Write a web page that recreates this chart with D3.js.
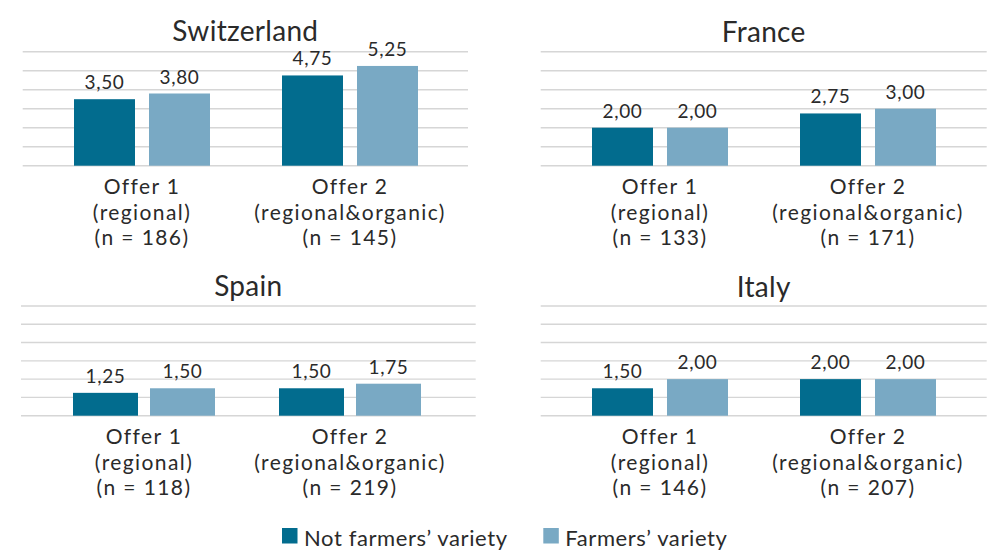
<!DOCTYPE html>
<html>
<head>
<meta charset="utf-8">
<script src="https://cdn.jsdelivr.net/npm/d3@7"></script>
<style>
  html, body { margin: 0; padding: 0; background: #fff; }
  svg { display: block; font-family: Lato, "Noto Sans", sans-serif; }
  .txt { fill: #2a2a2a; font-weight: 400; }
</style>
</head>
<body>
<div id="chart"></div>
<script>
// data
const countries = ["Switzerland", "France", "Spain", "Italy"];
const offers = ["Offer 1", "Offer 2"];
const offerSub = ["(regional)", "(regional&organic)"];
const sampleSizes = [[186, 145], [133, 171], [118, 219], [146, 207]];
const seriesNames = ["Not farmers’ variety", "Farmers’ variety"];
const notFarmers = [[3.50, 4.75], [2.00, 2.75], [1.25, 1.50], [1.50, 2.00]];
const farmers = [[3.80, 5.25], [2.00, 3.00], [1.50, 1.75], [2.00, 2.00]];
const yTicks = [0, 1, 2, 3, 4, 5, 6];

const colors = ["#026c8e", "#79a9c4"];

// panel placement
const panels = [
  {gx: [22.7, 468], band: [38, 454], groupW: 136, top: 51.7, base: 165.7, titleY: 41},
  {gx: [540.7, 986.7], band: [556, 972], groupW: 136, top: 51.7, base: 165.7, titleY: 41.5},
  {gx: [21, 475.7], band: [41, 453], groupW: 142, top: 306, base: 415.7, titleY: 295.5},
  {gx: [540.7, 986.7], band: [556, 972], groupW: 136, top: 306, base: 415.7, titleY: 296.5}
];

const fmt = d3.formatLocale({decimal: ",", thousands: ".", grouping: [3], currency: ["", ""]}).format(".2f");

const svg = d3.select("#chart").append("svg")
  .attr("width", 996)
  .attr("height", 551);

countries.forEach((country, ci) => {
  const p = panels[ci];
  const g = svg.append("g").attr("class", "panel");

  const y = d3.scaleLinear().domain([0, 6]).range([p.base, p.top]);
  const x0 = d3.scaleBand().domain(offers).range(p.band);

  // gridlines
  g.append("g").selectAll("line")
    .data(yTicks)
    .enter().append("line")
    .attr("x1", p.gx[0])
    .attr("x2", p.gx[1])
    .attr("y1", d => y(d))
    .attr("y2", d => y(d))
    .style("stroke", "#d6d6d6")
    .style("stroke-width", 1.4);

  // title
  g.append("text")
    .attr("class", "txt")
    .attr("x", (p.gx[0] + p.gx[1]) / 2)
    .attr("y", p.titleY)
    .attr("text-anchor", "middle")
    .style("font-size", "28px")
    .style("letter-spacing", "0.3px")
    .text(country);

  offers.forEach((offer, oi) => {
    const cx = x0(offer) + x0.bandwidth() / 2;
    const x1 = d3.scaleBand().domain(seriesNames)
      .range([cx - p.groupW / 2, cx + p.groupW / 2])
      .paddingInner(p.groupW === 136 ? 14 / 75 : 12 / 77);

    const vals = [notFarmers[ci][oi], farmers[ci][oi]];
    const grp = g.append("g");

    grp.selectAll("rect")
      .data(vals)
      .enter().append("rect")
      .attr("x", (d, i) => x1(seriesNames[i]))
      .attr("y", d => y(d))
      .attr("width", x1.bandwidth())
      .attr("height", d => y(0) - y(d))
      .style("fill", (d, i) => colors[i]);

    grp.selectAll("text.val")
      .data(vals)
      .enter().append("text")
      .attr("class", "val txt")
      .attr("x", (d, i) => x1(seriesNames[i]) + x1.bandwidth() / 2)
      .attr("y", d => y(d) - 10)
      .attr("text-anchor", "middle")
      .style("font-size", "19px")
      .style("letter-spacing", "0.6px")
      .text(d => fmt(d));

    // category label
    const lines = [offer, offerSub[oi], "(n = " + sampleSizes[ci][oi] + ")"];
    grp.selectAll("text.cat")
      .data(lines)
      .enter().append("text")
      .attr("class", "cat txt")
      .attr("x", cx)
      .attr("y", (d, i) => p.base + 28.5 + i * 25.5)
      .attr("text-anchor", "middle")
      .style("font-size", "21px")
      .style("letter-spacing", "1.4px")
      .text(d => d);
  });
});

// legend
const legendX = [282, 543.3];
const legend = svg.append("g").attr("class", "legend");
const items = legend.selectAll("g")
  .data(seriesNames)
  .enter().append("g")
  .attr("transform", (d, i) => "translate(" + legendX[i] + ",528)");

items.append("rect")
  .attr("width", 15.5)
  .attr("height", 15.5)
  .style("fill", (d, i) => colors[i]);

items.append("text")
  .attr("class", "txt")
  .attr("x", 22)
  .attr("y", 17.5)
  .style("font-size", "22px")
  .style("letter-spacing", "0.6px")
  .text(d => d);
</script>
</body>
</html>
